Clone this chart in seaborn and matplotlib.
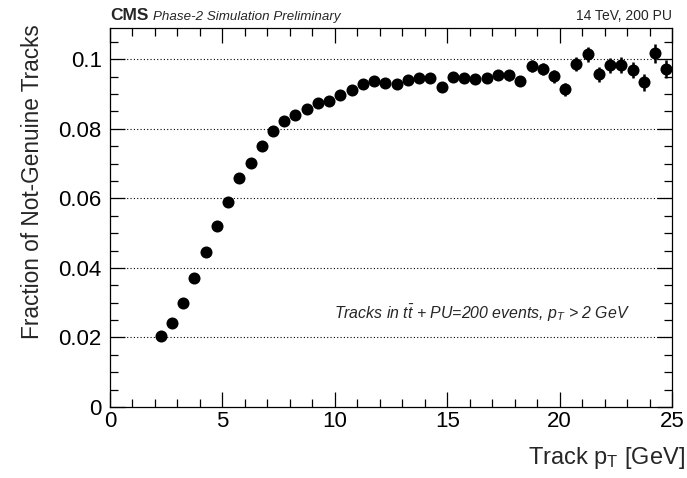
import numpy as np
import pandas as pd
import matplotlib
matplotlib.use("Agg")
import matplotlib.pyplot as plt
from matplotlib.ticker import MultipleLocator
import seaborn as sns

# ---- data ----
pt_centers = [2.25, 2.75, 3.25, 3.75, 4.25, 4.75, 5.25, 5.75, 6.25, 6.75,
              7.25, 7.75, 8.25, 8.75, 9.25, 9.75, 10.25, 10.75, 11.25, 11.75,
              12.25, 12.75, 13.25, 13.75, 14.25, 14.75, 15.25, 15.75, 16.25, 16.75,
              17.25, 17.75, 18.25, 18.75, 19.25, 19.75, 20.25, 20.75, 21.25, 21.75,
              22.25, 22.75, 23.25, 23.75, 24.25, 24.75]
fraction = [0.0204, 0.0241, 0.0299, 0.0371, 0.0445, 0.0520, 0.0589, 0.0658, 0.0701, 0.0750,
            0.0793, 0.0822, 0.0839, 0.0856, 0.0874, 0.0879, 0.0897, 0.0911, 0.0928, 0.0937,
            0.0931, 0.0928, 0.0940, 0.0945, 0.0945, 0.0920, 0.0948, 0.0945, 0.0943, 0.0945,
            0.0954, 0.0954, 0.0937, 0.0980, 0.0971, 0.0951, 0.0914, 0.0986, 0.1014, 0.0957,
            0.0983, 0.0983, 0.0968, 0.0934, 0.1017, 0.0971]
fraction_err = [0.0003, 0.0003, 0.0003, 0.0004, 0.0004, 0.0004, 0.0005, 0.0005, 0.0005, 0.0006,
                0.0006, 0.0007, 0.0007, 0.0008, 0.0008, 0.0009, 0.0009, 0.0010, 0.0010, 0.0011,
                0.0011, 0.0011, 0.0012, 0.0012, 0.0012, 0.0013, 0.0013, 0.0013, 0.0014, 0.0014,
                0.0014, 0.0015, 0.0015, 0.0017, 0.0017, 0.0018, 0.0019, 0.0020, 0.0022, 0.0021,
                0.0022, 0.0023, 0.0023, 0.0024, 0.0027, 0.0026]

df = pd.DataFrame({"pt": pt_centers, "frac": fraction, "err": fraction_err})

sns.set_theme(style="ticks")
plt.rcParams['font.family'] = ['Liberation Sans', 'DejaVu Sans']
plt.rcParams['mathtext.fontset'] = 'custom'
plt.rcParams['mathtext.rm'] = 'Liberation Sans'
plt.rcParams['mathtext.it'] = 'Liberation Sans:italic'
plt.rcParams['mathtext.bf'] = 'Liberation Sans:bold'

fig = plt.figure(figsize=(6.87, 4.78), dpi=100)
ax = fig.add_axes([110/687, 1-407/478, (672-110)/687, (407-28)/478])

ax.errorbar(df["pt"], df["frac"], yerr=df["err"], fmt='none', ecolor='black',
            elinewidth=1.8, capsize=0, zorder=3)
sns.scatterplot(data=df, x="pt", y="frac", ax=ax, color='black', s=75,
                marker='o', edgecolor='black', linewidth=0, zorder=4, legend=False)

ax.set_xlim(0, 25)
ax.set_ylim(0, 0.109)
ax.xaxis.set_major_locator(MultipleLocator(5))
ax.xaxis.set_minor_locator(MultipleLocator(1))
ax.yaxis.set_major_locator(MultipleLocator(0.02))
ax.yaxis.set_minor_locator(MultipleLocator(0.005))
ax.tick_params(which='both', direction='in', top=True, right=True, colors='black',
               width=0.9)
ax.tick_params(which='major', length=11, labelsize=16)
ax.tick_params(axis='y', which='major', pad=6)
ax.tick_params(axis='x', which='major', pad=3)
ax.tick_params(which='minor', length=6)
ax.set_yticks([0, 0.02, 0.04, 0.06, 0.08, 0.1])
ax.set_yticklabels(['0', '0.02', '0.04', '0.06', '0.08', '0.1'])
for sp in ax.spines.values():
    sp.set_color('black')
    sp.set_linewidth(0.9)

for yv in [0.02, 0.04, 0.06, 0.08, 0.1]:
    ax.axhline(yv, color='black', linestyle=(0, (1, 2)), linewidth=0.8, zorder=1)

ax.set_xlabel(r'Track $\mathrm{p_{T}}$ [GeV]', fontsize=17, ha='right')
ax.xaxis.set_label_coords(1.023, -0.10)
ax.set_ylabel('Fraction of Not-Genuine Tracks', fontsize=16.3, ha='right')
ax.yaxis.set_label_coords(-0.117, 1.01)

ax.text(0.0, 1.012, 'CMS', transform=ax.transAxes, fontsize=12.5, fontweight='bold',
        ha='left', va='bottom')
ax.text(0.076, 1.012, 'Phase-2 Simulation Preliminary', transform=ax.transAxes,
        fontsize=9.6, style='italic', ha='left', va='bottom')
ax.text(1.0, 1.012, '14 TeV, 200 PU', transform=ax.transAxes, fontsize=10,
        ha='right', va='bottom')
ax.text(0.399, 0.248, r'Tracks in $t\bar{t}$ + PU=200 events, $p_{T}$ > 2 GeV',
        transform=ax.transAxes, fontsize=11.4, style='italic', ha='left', va='center')

fig.savefig('out.png', dpi=100)
